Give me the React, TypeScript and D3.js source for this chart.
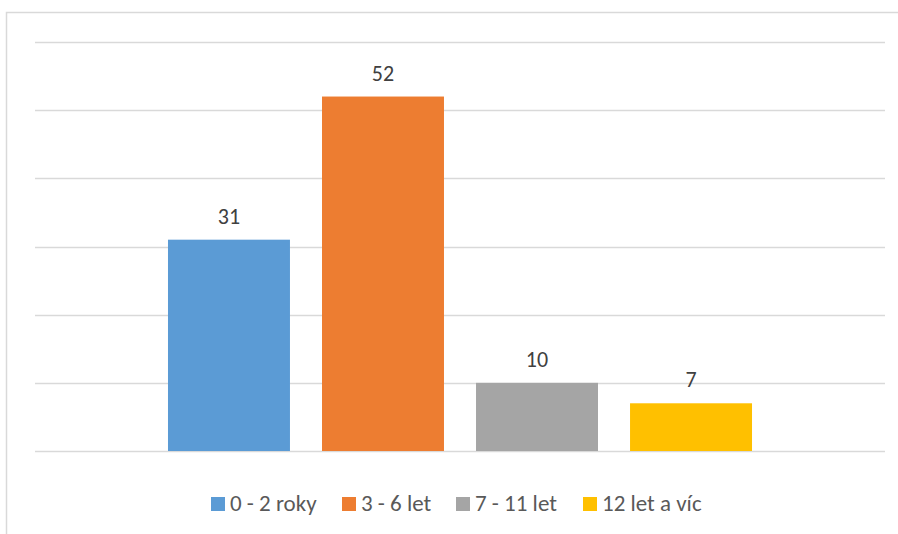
import React from "react";
import * as d3 from "d3";

const series = ["0 - 2 roky", "3 - 6 let", "7 - 11 let", "12 let a víc"];
const values = [31, 52, 10, 7];
const colors = ["#5b9bd5", "#ed7d31", "#a5a5a5", "#ffc000"];
const yTicks = [0, 10, 20, 30, 40, 50, 60];

const W = 898;
const H = 534;
const FONT = "Carlito, Calibri, Lato, 'Open Sans', sans-serif";

export default function App() {
  const y = d3.scaleLinear().domain([0, 60]).range([451, 42]);
  const outer = d3.scaleBand().domain(["all"]).range([35, 885]).paddingOuter(0.2277);
  const inner = d3
    .scaleBand()
    .domain(series)
    .range([0, outer.bandwidth()])
    .paddingInner(0.208);
  const x0 = outer("all") as number;

  const legendX = [211, 342, 456, 583];

  return (
    <svg
      width={W}
      height={H}
      style={{ position: "absolute", left: 0, top: 0, background: "#fff" }}
    >
      <rect x={6.5} y={12.5} width={W} height={H} fill="#fff" stroke="#d9d9d9" strokeWidth={1.5} />
      {yTicks.map((t) => (
        <line
          key={t}
          x1={35}
          x2={885}
          y1={Math.round(y(t)) + 0.5}
          y2={Math.round(y(t)) + 0.5}
          stroke="#d9d9d9"
          strokeWidth={1.5}
        />
      ))}
      {series.map((s, i) => {
        const bx = x0 + (inner(s) as number);
        return (
          <g key={s}>
            <rect
              x={bx}
              y={y(values[i])}
              width={inner.bandwidth()}
              height={y(0) - y(values[i])}
              fill={colors[i]}
            />
            <text
              x={bx + inner.bandwidth() / 2}
              y={y(values[i]) - 16}
              textAnchor="middle"
              fontFamily={FONT}
              fontSize={22}
              fill="#404040"
            >
              {values[i]}
            </text>
          </g>
        );
      })}
      {series.map((s, i) => (
        <g key={s} transform={`translate(${legendX[i]},0)`}>
          <rect x={0} y={497} width={14} height={14} fill={colors[i]} />
          <text x={19} y={511} fontFamily={FONT} fontSize={23} fill="#595959">
            {s}
          </text>
        </g>
      ))}
    </svg>
  );
}
